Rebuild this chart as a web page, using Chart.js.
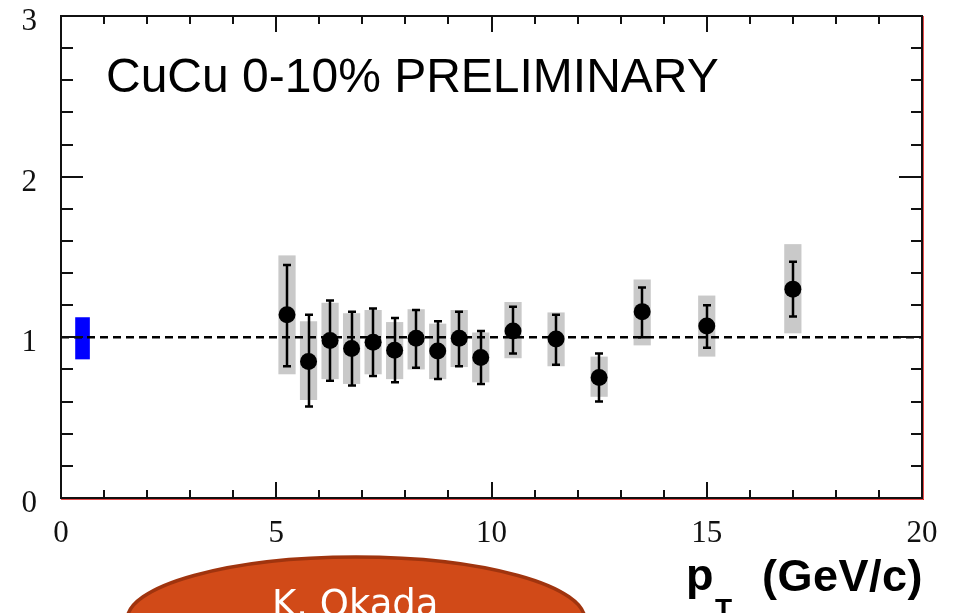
<!DOCTYPE html>
<html><head><meta charset="utf-8">
<script src="https://cdn.jsdelivr.net/npm/chart.js@4.4.1/dist/chart.umd.min.js"></script>
<style>html,body{margin:0;padding:0;background:#fff;overflow:hidden}canvas{display:block}</style>
</head><body>
<canvas id="c" width="959" height="613" style="width:959px;height:613px"></canvas>
<script>
// ---- data ----
const pT        = [5.25, 5.75, 6.25, 6.75, 7.25, 7.75, 8.25, 8.75, 9.25, 9.75, 10.5, 11.5, 12.5, 13.5, 15.0, 17.0];
const ratio     = [1.14, 0.85, 0.98, 0.93, 0.97, 0.92, 0.995, 0.915, 0.995, 0.875, 1.04, 0.99, 0.75, 1.16, 1.07, 1.30];
const statHigh  = [1.45, 1.14, 1.23, 1.16, 1.18, 1.12, 1.17, 1.10, 1.16, 1.04, 1.19, 1.14, 0.90, 1.31, 1.20, 1.47];
const statLow   = [0.82, 0.57, 0.73, 0.70, 0.76, 0.72, 0.81, 0.74, 0.82, 0.71, 0.90, 0.83, 0.60, 1.00, 0.935, 1.13];
const sysHigh   = [1.51, 1.10, 1.215, 1.15, 1.17, 1.095, 1.175, 1.085, 1.17, 1.03, 1.22, 1.155, 0.88, 1.36, 1.26, 1.58];
const sysLow    = [0.77, 0.61, 0.74, 0.71, 0.77, 0.74, 0.80, 0.74, 0.815, 0.72, 0.87, 0.82, 0.63, 0.95, 0.88, 1.025];
const sysHalfWidth = [0.2];
const normX     = [0.5];
const normHalfWidth = [0.17];
const normHigh  = [1.125];
const normLow   = [0.863];
const refLevel  = [1];
const xRange    = [0, 20];
const yRange    = [0, 3];
const xTickLabels = ['0', '5', '10', '15', '20'];
const yTickLabels = ['0', '1', '2', '3'];
const labelText = 'CuCu 0-10% PRELIMINARY';
const axisTitleMain = 'p';
const axisTitleSub = 'T';
const axisTitleRest = '(GeV/c)';
const badgeText = 'K. Okada';

const deco = {
  id: 'deco',
  beforeDatasetsDraw(chart) {
    const {ctx, scales: {x, y}} = chart;
    ctx.save();
    // systematic boxes
    ctx.fillStyle = '#c9c9c9';
    pT.forEach((p, i) => {
      const l = x.getPixelForValue(p - sysHalfWidth[0]);
      const r = x.getPixelForValue(p + sysHalfWidth[0]);
      const t = y.getPixelForValue(sysHigh[i]);
      const b = y.getPixelForValue(sysLow[i]);
      ctx.fillRect(l, t, r - l, b - t);
    });
    // normalisation box
    ctx.fillStyle = '#0000ff';
    normX.forEach((p, i) => {
      const l = x.getPixelForValue(p - normHalfWidth[0]);
      const r = x.getPixelForValue(p + normHalfWidth[0]);
      const t = y.getPixelForValue(normHigh[i]);
      const b = y.getPixelForValue(normLow[i]);
      ctx.fillRect(l, t, r - l, b - t);
    });
    // stat error bars
    ctx.strokeStyle = '#000';
    ctx.lineWidth = 2.5;
    pT.forEach((p, i) => {
      const px = Math.round(x.getPixelForValue(p));
      const t = y.getPixelForValue(statHigh[i]);
      const b = y.getPixelForValue(statLow[i]);
      ctx.beginPath();
      ctx.moveTo(px, t); ctx.lineTo(px, b);
      ctx.moveTo(px - 4, t); ctx.lineTo(px + 4, t);
      ctx.moveTo(px - 4, b); ctx.lineTo(px + 4, b);
      ctx.stroke();
    });
    ctx.restore();
  },
  afterDraw(chart) {
    const {ctx, chartArea: a, scales: {x, y}} = chart;
    ctx.save();
    // red fringe
    ctx.strokeStyle = 'rgba(225,30,30,0.8)';
    ctx.lineWidth = 1;
    ctx.beginPath();
    ctx.moveTo(a.left, a.bottom + 1.5); ctx.lineTo(a.right + 2, a.bottom + 1.5);
    ctx.moveTo(a.right + 1.5, a.top); ctx.lineTo(a.right + 1.5, a.bottom + 2);
    ctx.stroke();
    // frame
    ctx.strokeStyle = '#111';
    ctx.lineWidth = 2;
    ctx.strokeRect(a.left, a.top, a.right - a.left, a.bottom - a.top);
    // ticks
    ctx.beginPath();
    for (let v = xRange[0] + 1; v < xRange[1]; v++) {
      const px = Math.round(x.getPixelForValue(v));
      const major = v % 5 === 0;
      const len = major ? 16 : 8;
      ctx.moveTo(px, a.bottom); ctx.lineTo(px, a.bottom - len);
      ctx.moveTo(px, a.top); ctx.lineTo(px, a.top + len);
    }
    for (let k = 1; k < 15; k++) {
      const v = k * 0.2;
      const py = Math.round(y.getPixelForValue(v));
      const major = k % 5 === 0;
      ctx.moveTo(a.left, py); ctx.lineTo(a.left + (major ? 22 : 12), py);
      ctx.moveTo(a.right, py); ctx.lineTo(a.right - (major ? 23 : 11), py);
    }
    ctx.stroke();
    // label text
    ctx.fillStyle = '#000';
    ctx.font = '48px "Liberation Sans", Arial, sans-serif';
    ctx.textBaseline = 'alphabetic';
    ctx.textAlign = 'left';
    ctx.fillText(labelText, 106, 92);
    // axis title
    ctx.font = 'bold 45px "Liberation Sans", Arial, sans-serif';
    ctx.fillText(axisTitleMain, 686, 590);
    ctx.font = 'bold 28px "Liberation Sans", Arial, sans-serif';
    ctx.fillText(axisTitleSub, 715, 618);
    ctx.font = 'bold 45px "Liberation Sans", Arial, sans-serif';
    ctx.letterSpacing = '0.5px';
    ctx.fillText(axisTitleRest, 762, 591);
    ctx.letterSpacing = '0px';
    // badge ellipse
    ctx.beginPath();
    ctx.ellipse(356, 620, 229, 63, 0, 0, Math.PI * 2);
    ctx.fillStyle = '#d14a18';
    ctx.fill();
    ctx.lineWidth = 3.5;
    ctx.strokeStyle = '#a0340e';
    ctx.stroke();
    ctx.fillStyle = '#ffffff';
    ctx.font = '37px "DejaVu Sans", sans-serif';
    ctx.fillText(badgeText, 272, 616);
    ctx.restore();
  }
};

new Chart(document.getElementById('c'), {
  data: {
    datasets: [
      {
        type: 'line',
        data: [{x: xRange[0], y: refLevel[0]}, {x: xRange[1], y: refLevel[0]}],
        borderColor: '#000', borderWidth: 2.5, borderDash: [8, 5],
        pointRadius: 0, fill: false, order: 2
      },
      {
        type: 'scatter',
        data: pT.map((p, i) => ({x: p, y: ratio[i]})),
        backgroundColor: '#000', borderWidth: 0,
        pointRadius: 8.5, pointHoverRadius: 8.5, order: 1
      }
    ]
  },
  options: {
    responsive: false,
    devicePixelRatio: 1,
    animation: false,
    events: [],
    layout: {autoPadding: false, padding: {top: 16, right: 37, left: 0, bottom: 0}},
    plugins: {legend: {display: false}, tooltip: {enabled: false}},
    scales: {
      x: {
        type: 'linear', position: 'bottom', min: xRange[0], max: xRange[1],
        grid: {display: false, drawTicks: false},
        border: {display: false},
        ticks: {
          stepSize: 5, padding: 17, color: '#111', maxRotation: 0,
          font: {family: '"Liberation Serif", "Times New Roman", serif', size: 31},
          callback: (v) => xTickLabels.includes(String(v)) ? String(v) : ''
        },
        afterFit: (s) => { s.height = 115; s.paddingLeft = 0; s.paddingRight = 0; }
      },
      y: {
        type: 'linear', position: 'left', min: yRange[0], max: yRange[1],
        grid: {display: false, drawTicks: false},
        border: {display: false},
        ticks: {
          stepSize: 1, padding: 24, color: '#111', labelOffset: 6,
          font: {family: '"Liberation Serif", "Times New Roman", serif', size: 31},
          callback: (v) => yTickLabels.includes(String(v)) ? String(v) : ''
        },
        afterFit: (s) => { s.width = 61; s.paddingTop = 0; s.paddingBottom = 0; }
      }
    }
  },
  plugins: [deco]
});
</script>
</body></html>
